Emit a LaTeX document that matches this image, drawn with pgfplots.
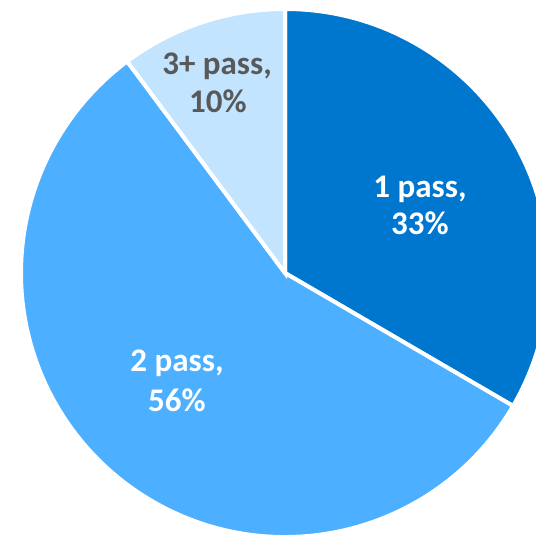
\documentclass[border=0pt]{standalone}
\usepackage{fontspec}
\setmainfont{Carlito}
\usepackage{pgfplots}
\usepackage{pgfplotstable}
\pgfplotsset{compat=1.18}
\definecolor{cone}{HTML}{0077CE}
\definecolor{ctwo}{HTML}{4CAFFF}
\definecolor{cthree}{HTML}{C2E4FF}
\definecolor{tgray}{HTML}{595959}

\pgfplotstableread{
label value
1 33.4
2 56.4
3 10.2
}\piedata

\begin{document}
\begin{tikzpicture}
\pgfplotstablegetelem{0}{value}\of\piedata \let\vA\pgfplotsretval
\pgfplotstablegetelem{1}{value}\of\piedata \let\vB\pgfplotsretval
\pgfplotstablegetelem{2}{value}\of\piedata \let\vC\pgfplotsretval
\pgfmathsetmacro{\aS}{90}
\pgfmathsetmacro{\aA}{90-3.6*\vA}
\pgfmathsetmacro{\aB}{\aA-3.6*\vB}
\pgfmathsetmacro{\aC}{\aB-3.6*\vC}
\begin{axis}[
  x=1pt, y=1pt,
  xmin=0, xmax=536, ymin=0, ymax=535,
  hide axis, clip=true,
  clip bounding box=upper bound,
]
\filldraw[fill=cone, draw=white, line width=4pt, line join=miter]
  (axis cs:285,262) -- ++(\aS:264pt) arc[start angle=\aS, end angle=\aA, radius=264pt] -- cycle;
\filldraw[fill=ctwo, draw=white, line width=4pt, line join=miter]
  (axis cs:285,262) -- ++(\aA:264pt) arc[start angle=\aA, end angle=\aB, radius=264pt] -- cycle;
\filldraw[fill=cthree, draw=white, line width=4pt, line join=miter]
  (axis cs:285,262) -- ++(\aB:264pt) arc[start angle=\aB, end angle=\aC, radius=264pt] -- cycle;
\begin{scope}[every node/.style={font=\fontsize{33}{40}\selectfont\bfseries, anchor=base, inner sep=0pt}]
\node[text=white] at (axis cs:420,337) {1 pass,};
\node[text=white] at (axis cs:420,300) {33\%};
\node[text=white] at (axis cs:177,163) {2 pass,};
\node[text=white] at (axis cs:177,123) {56\%};
\node[text=tgray] at (axis cs:217,460) {3+ pass,};
\node[text=tgray] at (axis cs:218,422) {10\%};
\end{scope}
\end{axis}
\pgfresetboundingbox
\path (current axis.south west) rectangle (current axis.north east);
\end{tikzpicture}
\end{document}
